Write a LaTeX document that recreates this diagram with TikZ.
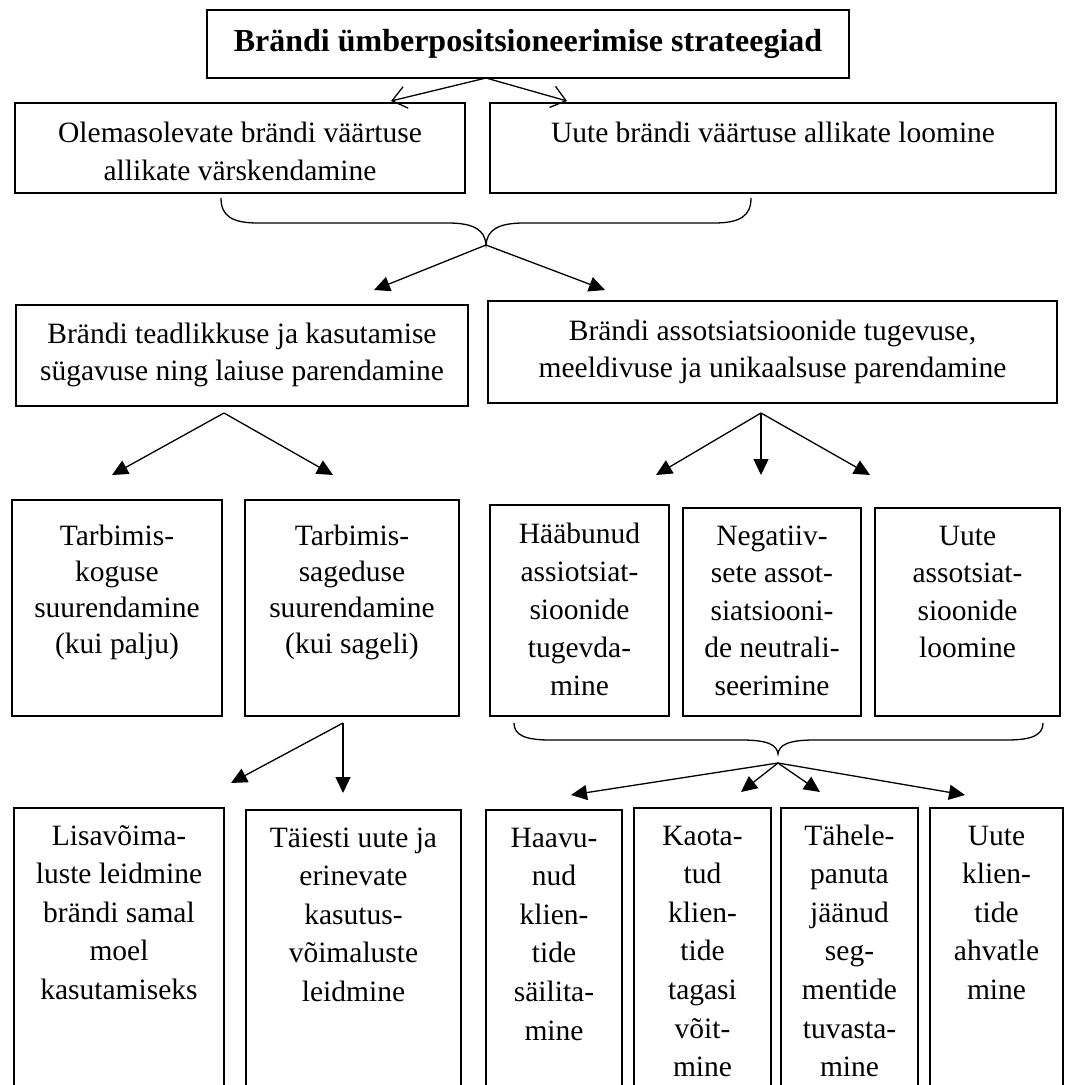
\documentclass[tikz,border=0pt]{standalone}
\usepackage{fontspec}
\setmainfont{Liberation Serif}
\usetikzlibrary{arrows.meta}
\newcommand{\tbx}[5]{\parbox[c][#2][t]{#1}{\centering\fontsize{29.5}{#4}\selectfont\rule{0pt}{#3}#5\par}}
\tikzset{
  bx/.style={draw, line width=1.3pt, inner sep=0pt, outer sep=0pt, anchor=north west},
  openarr/.style={-{Straight Barb[length=14pt,width=22pt]}, line width=1.3pt},
  fillarr/.style={-{Triangle[length=16pt,width=15pt]}, line width=1.3pt},
  bracepath/.style={line width=1.3pt}
}
\begin{document}
\begin{tikzpicture}[x=1pt,y=-1pt]
\useasboundingbox (0,0) rectangle (1065,1085);
\clip (0,0) rectangle (1065,1085);

% title
\node[bx, minimum width=642pt, minimum height=68pt, font=\fontsize{32}{38}\selectfont\bfseries] (title) at (207,10) {Brändi ümberpositsioneerimise strateegiad};

% row 1
\node[bx] (o1) at (15,103) {\tbx{450pt}{90pt}{39pt}{38pt}{Olemasolevate brändi väärtuse\\allikate värskendamine}};
\node[bx] (u1) at (490,103) {\tbx{566pt}{90pt}{39pt}{38pt}{Uute brändi väärtuse allikate loomine}};

% row 2
\node[bx] (l2) at (16,305) {\tbx{452pt}{101pt}{38pt}{37pt}{Brändi teadlikkuse ja kasutamise\\sügavuse ning laiuse parendamine}};
\node[bx] (r2) at (488,301) {\tbx{569pt}{102pt}{39pt}{37pt}{Brändi assotsiatsioonide tugevuse,\\meeldivuse ja unikaalsuse parendamine}};

% row 3
\node[bx] (t1) at (12,500) {\tbx{210pt}{216pt}{45pt}{36pt}{Tarbimis-\\koguse\\suurendamine\\(kui palju)}};
\node[bx] (t2) at (245,500) {\tbx{214pt}{216pt}{45pt}{36pt}{Tarbimis-\\sageduse\\suurendamine\\(kui sageli)}};
\node[bx] (h3) at (490,505) {\tbx{179pt}{211pt}{38pt}{38pt}{Hääbunud\\assiotsiat-\\sioonide\\tugevda-\\mine}};
\node[bx] (n3) at (683,508) {\tbx{178pt}{208pt}{37pt}{37.5pt}{Negatiiv-\\sete assot-\\siatsiooni-\\de neutrali-\\seerimine}};
\node[bx] (u3) at (875,508) {\tbx{185pt}{208pt}{37pt}{37.5pt}{Uute\\assotsiat-\\sioonide\\loomine}};

% row 4 (boxes run past the lower edge)
\node[bx] (a4) at (14,808) {\tbx{210pt}{300pt}{37pt}{38.6pt}{Lisavõima-\\luste leidmine\\brändi samal\\moel\\kasutamiseks}};
\node[bx] (b4) at (246,810) {\tbx{215pt}{300pt}{37pt}{38.6pt}{Täiesti uute ja\\erinevate\\kasutus-\\võimaluste\\leidmine}};
\node[bx] (c4) at (486,810) {\tbx{136pt}{300pt}{37pt}{38.6pt}{Haavu-\\nud\\klien-\\tide\\säilita-\\mine}};
\node[bx] (d4) at (634,808) {\tbx{137pt}{300pt}{37pt}{38.6pt}{Kaota-\\tud\\klien-\\tide\\tagasi\\võit-\\mine}};
\node[bx] (e4) at (781,808) {\tbx{137pt}{300pt}{37pt}{38.6pt}{Tähele-\\panuta\\jäänud\\seg-\\mentide\\tuvasta-\\mine}};
\node[bx] (f4) at (930,808) {\tbx{133pt}{300pt}{37pt}{38.6pt}{Uute\\klien-\\tide\\ahvatle\\mine}};

% connector points
\coordinate (tA) at (486,78);
\coordinate (tL) at (391,101);
\coordinate (tR) at (567,101);
\coordinate (bA) at (486,245);
\coordinate (bL) at (374,290);
\coordinate (bR) at (605,290);
\coordinate (pL) at (224,413);
\coordinate (pL1) at (112,475);
\coordinate (pL2) at (333,475);
\coordinate (pR) at (761,413);
\coordinate (pR1) at (656,475);
\coordinate (pR2) at (761,475);
\coordinate (pR3) at (870,475);
\coordinate (sA) at (343,723);
\coordinate (sL) at (231,783);
\coordinate (sD) at (343,793);
\coordinate (qA) at (778,763);
\coordinate (q1) at (571,795);
\coordinate (q2) at (741,792);
\coordinate (q3) at (820,792);
\coordinate (q4) at (965,795);

% braces
\draw[bracepath] (221,198) .. controls (221,216) and (232,223) .. (258,223) -- (448,223)
  .. controls (474,223) and (485,230) .. (bA)
  .. controls (487,230) and (498,223) .. (524,223) -- (714,223)
  .. controls (740,223) and (751,216) .. (751,198);
\draw[bracepath] (514,723) .. controls (514,735) and (525,740) .. (550,740) -- (742,740)
  .. controls (768,740) and (777,745) .. (778,754)
  .. controls (779,745) and (788,740) .. (814,740) -- (1007,740)
  .. controls (1032,740) and (1043,735) .. (1043,723);

% arrows
\draw[openarr] (tA) -- (tL);
\draw[openarr] (tA) -- (tR);
\draw[fillarr] (bA) -- (bL);
\draw[fillarr] (bA) -- (bR);
\draw[fillarr] (pL) -- (pL1);
\draw[fillarr] (pL) -- (pL2);
\draw[fillarr] (pR) -- (pR1);
\draw[fillarr] (pR) -- (pR2);
\draw[fillarr] (pR) -- (pR3);
\draw[fillarr] (sA) -- (sL);
\draw[fillarr] (sA) -- (sD);
\draw[fillarr] (qA) -- (q1);
\draw[fillarr] (qA) -- (q2);
\draw[fillarr] (qA) -- (q3);
\draw[fillarr] (qA) -- (q4);
\end{tikzpicture}
\end{document}
